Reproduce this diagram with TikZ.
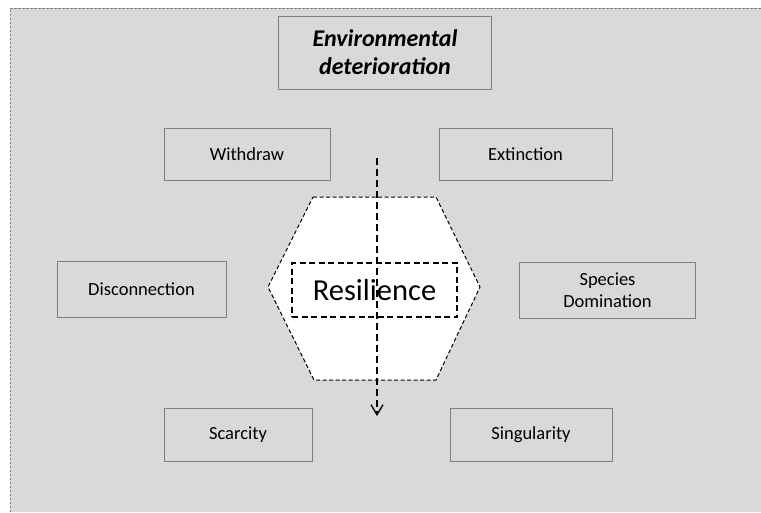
\documentclass[tikz,border=0pt]{standalone}
\usepackage{fontspec}
\setmainfont{Carlito}
\usetikzlibrary{arrows.meta}
\definecolor{bggray}{HTML}{D9D9D9}
\definecolor{edgegray}{HTML}{7F7F7F}
\begin{document}
\begin{tikzpicture}[x=1pt,y=-1pt,
  box/.style={draw=edgegray,line width=1pt,inner sep=0pt,align=center,minimum height=52pt,font=\fontsize{18.5}{22}\selectfont},
  hexline/.style={draw=black,line width=1pt,dash pattern=on 4pt off 2.5pt,fill=white},
  resbox/.style={draw=black,line width=1.5pt,dash pattern=on 6pt off 3.5pt,inner sep=0pt,minimum width=165pt,minimum height=54pt,font=\fontsize{30.5}{34}\selectfont},
  flow/.style={line width=1.5pt,dash pattern=on 7pt off 4pt,-{Straight Barb[length=10pt,width=12pt,line width=1.3pt]}}]
\useasboundingbox (0,0) rectangle (761,512);
% background sheet
\fill[bggray] (10,8) rectangle (761,512);
\draw[edgegray,line width=.8pt,dash pattern=on 2.5pt off 1.5pt] (10,512) -- (10,8) -- (761,8);
% title
\node[box,minimum width=213pt,minimum height=73pt,font=\fontsize{24}{28}\selectfont\bfseries\itshape] (env) at (385,52.5) {Environmental\\deterioration};
% outer boxes
\node[box,minimum width=166pt] (wd) at (247,154) {Withdraw};
\node[box,minimum width=173pt] (ext) at (525.5,154) {Extinction};
\node[box,minimum width=169pt,minimum height=56pt] (dis) at (141.5,289) {Disconnection};
\node[box,minimum width=176pt,minimum height=56pt] (dom) at (607.5,290) {Species\\Domination};
\node[box,minimum width=148pt,minimum height=53pt] (sca) at (238,434.5) {Scarcity};
\node[box,minimum width=162pt,minimum height=53pt] (sing) at (531,434.5) {Singularity};
% hexagon
\draw[hexline] (313,197) -- (436,197) -- (480,287) -- (436,380) -- (314,380) -- (268,287) -- cycle;
\node[resbox] (res) at (374.5,290) {Resilience};
% flow through the core
\coordinate (top) at (377,158);
\coordinate (bot) at (377,416);
\draw[flow] (top) -- (bot);
\end{tikzpicture}
\end{document}
